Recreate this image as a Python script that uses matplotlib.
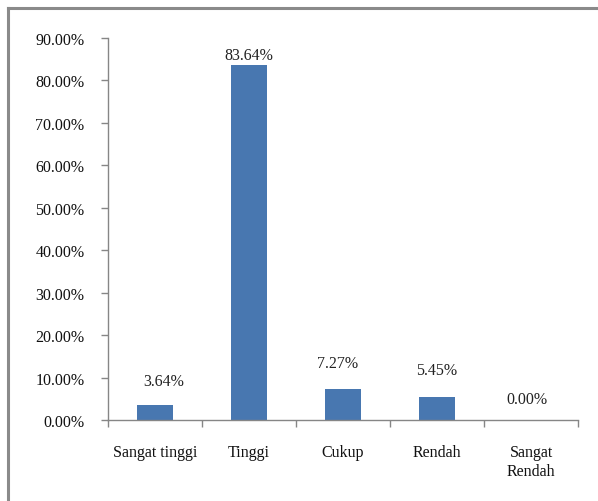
import matplotlib.pyplot as plt
from matplotlib.lines import Line2D
from matplotlib.ticker import FixedLocator, FuncFormatter

categories = ["Sangat tinggi", "Tinggi", "Cukup", "Rendah", "Sangat\nRendah"]
values = [3.64, 83.64, 7.27, 5.45, 0.00]

# label placement offsets (points) relative to each bar top
label_dx = [6, 0, -4, 0, -3]
label_dy = [17, 7, 19, 19, 15]

plt.rcParams["font.family"] = ["Liberation Serif", "DejaVu Serif"]
plt.rcParams["font.size"] = 11.5

fig = plt.figure(figsize=(5.98, 5.02), dpi=100)
ax = fig.add_axes([0.1806, 0.1614, 0.786, 0.7609])

x = range(len(categories))
ax.bar(x, values, width=0.39, color="#4877B0", zorder=2)

for i, v in enumerate(values):
    ax.annotate(f"{v:.2f}%", (i, v), xytext=(label_dx[i], label_dy[i]),
                textcoords="offset points", ha="center", va="center",
                fontsize=11.5, color="#222222")

ax.set_xlim(-0.5, len(categories) - 0.5)
ax.set_ylim(0, 90)
ax.yaxis.set_major_locator(FixedLocator([i * 10 for i in range(10)]))
ax.yaxis.set_major_formatter(FuncFormatter(lambda v, _: f"{v:.2f}%"))

ax.set_xticks(list(x))
ax.set_xticklabels(categories, linespacing=1.25)
ax.xaxis.set_minor_locator(FixedLocator([i - 0.5 for i in range(len(categories) + 1)]))
ax.tick_params(axis="x", which="major", length=0, pad=17)
ax.tick_params(axis="x", which="minor", length=5, width=1, color="#868686", direction="out")
ax.tick_params(axis="y", length=5, width=1, color="#868686", direction="out", pad=12)
ax.tick_params(labelsize=11.5, labelcolor="#111111")

for side in ("top", "right"):
    ax.spines[side].set_visible(False)
for side in ("left", "bottom"):
    ax.spines[side].set_color("#868686")
    ax.spines[side].set_linewidth(1.0)

# chart frame: only the top and left edges fall inside the image
fig.add_artist(Line2D([8 / 598, 1.0], [1 - 9 / 502, 1 - 9 / 502],
                      transform=fig.transFigure, color="#8a8a8a", lw=2.2))
fig.add_artist(Line2D([8 / 598, 8 / 598], [0.0, 1 - 9 / 502],
                      transform=fig.transFigure, color="#8a8a8a", lw=2.2))

fig.savefig("out.png", dpi=100)
